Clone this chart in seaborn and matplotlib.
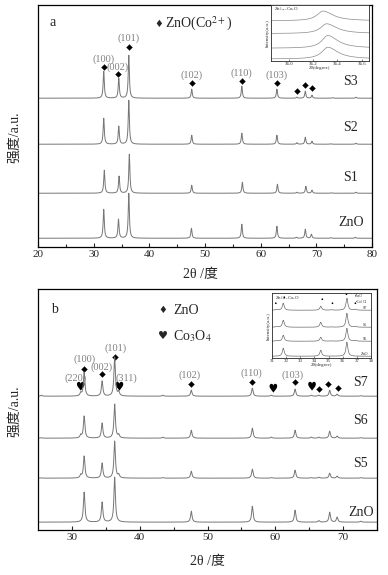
import numpy as np
import pandas as pd
import seaborn as sns
import matplotlib.pyplot as plt

sns.set_style("ticks")
plt.rcParams['font.family'] = ['Liberation Serif', 'Noto Sans CJK SC', 'DejaVu Sans']
plt.rcParams['mathtext.fontset'] = 'stix'
plt.rcParams['xtick.direction'] = 'in'
plt.rcParams['ytick.direction'] = 'in'

LINE = '#767676'
HKL = '#808080'
CJK = ['Liberation Serif', 'Noto Sans CJK SC']

# ---- panel a : ZnO(Co2+) series, peak positions (2theta) and heights (a.u.)
a_samples = ['ZnO', 'S1', 'S2', 'S3']
a_offsets = [9, 54, 103, 149]
a_pos = {
    'ZnO': [31.8, 34.45, 36.3, 47.55, 56.6, 62.9, 66.4, 68.0, 69.1, 72.6, 77.0],
    'S1':  [31.9, 34.55, 36.4, 47.6, 56.7, 63.0, 66.5, 68.1, 69.2, 72.7, 77.1],
    'S2':  [31.8, 34.5, 36.3, 47.6, 56.6, 62.9, 66.5, 68.0, 69.2, 72.6, 77.1],
    'S3':  [31.8, 34.5, 36.3, 47.6, 56.6, 62.9, 66.5, 68.0, 69.2, 72.9, 77.1],
}
a_int = {
    'ZnO': [29, 19, 45, 10, 14, 12, 1.0, 9, 4, 0.5, 1.0],
    'S1':  [23, 17, 39, 8, 11, 9, 1.0, 7, 3, 0.4, 1.0],
    'S2':  [26, 18, 44, 9, 11, 9, 1.5, 7, 3, 0.4, 1.0],
    'S3':  [27, 20, 43, 9, 12, 9, 1.0, 7, 3, 0.5, 1.0],
}
a_hkl = ['(100)', '(002)', '(101)', '(102)', '(110)', '(103)']
a_hkl_x = [31.7, 34.3, 36.2, 47.6, 56.6, 62.9]
a_hkl_y = [188, 180, 209, 172, 174, 172]
a_mark_x = [31.8, 34.4, 36.3, 47.6, 56.6, 62.9, 66.5, 68.0, 69.2]
a_mark_y = [180, 173, 200, 164, 166, 164, 156, 162, 159]
a_label_y = [25, 70, 120, 166]

# inset a : (101) peak, zoomed
ia_pos = [36.32, 36.32, 36.31, 36.28]
ia_int = [12, 13, 10, 10]
ia_offsets = [2, 13, 28, 41]

# ---- panel b : ZnO / Co3O4 series
b_samples = ['ZnO', 'S5', 'S6', 'S7']
b_offsets = [8, 52, 92, 134]
b_pos = [25.5, 31.3, 31.8, 34.45, 36.3, 36.9, 43.4, 47.6, 56.6, 59.4, 62.9, 65.3, 66.4, 68.0, 69.1, 72.6]
b_int = {
    'ZnO': [0.0, 0.0, 30, 20, 45, 0.0, 0.0, 11, 16, 0.0, 12, 0.0, 1.5, 10, 5, 1.0],
    'S5':  [0.3, 3, 22, 15, 37, 3, 0.5, 7, 9, 0.5, 8, 0.5, 1.0, 5, 2, 0.5],
    'S6':  [0.5, 3, 22, 15, 34, 3, 1.0, 8, 10, 1.0, 8, 1.0, 1.0, 7, 2, 0.5],
    'S7':  [1.0, 3, 24, 15, 39, 4, 1.0, 6, 8, 1.0, 7, 1.0, 1.0, 6, 2, 0.5],
}
b_hkl = ['(220)', '(100)', '(002)', '(101)', '(311)', '(102)', '(110)', '(103)']
b_hkl_x = [30.5, 31.9, 34.4, 36.4, 38.0, 47.4, 56.5, 62.6]
b_hkl_y = [152, 171, 163, 182, 152, 155, 157, 155]
b_zno_x = [31.8, 34.5, 36.3, 47.6, 56.6, 62.9, 66.5, 67.8, 69.2]
b_zno_y = [161, 156, 173, 146, 148, 148, 141, 146, 142]
b_co_x = [31.3, 37.0, 59.7, 65.4]
b_co_y = [144, 144, 142, 144]
b_label_y = [18, 67, 110, 148]

# inset b : 31-38 deg region
ib_pos = [31.3, 31.8, 34.45, 35.2, 36.3, 36.9]
ib_int = {
    'ZnO': [0.0, 8, 6, 0.0, 14, 0.0],
    'S5':  [0.6, 6, 4, 0.3, 13, 0.8],
    'S6':  [0.6, 7, 5, 0.3, 14, 0.8],
    'S7':  [0.8, 7, 4, 0.5, 12, 1.0],
}
ib_offsets = [2, 17, 31, 48]
ib_mark_x = [31.27, 31.87, 34.56, 35.28, 36.27, 36.9]
ib_mark_y = [55, 61, 59, 55, 64, 55]


def pattern(x, pos, hts, base, gl, gr=None):
    gr = gl if gr is None else gr
    y = np.full_like(x, float(base))
    for p, h in zip(pos, hts):
        g = np.where(x < p, gl, gr)
        y += h / (1 + ((x - p) / g) ** 2)
    return y


def draw(ax, x, samples, offsets, pos, ints, gl, gr=None, color=LINE, lw=0.7):
    frames = []
    for s, off in zip(samples, offsets):
        p = pos[s] if isinstance(pos, dict) else pos
        frames.append(pd.DataFrame({'two_theta': x,
                                    'intensity': pattern(x, p, ints[s], off, gl, gr),
                                    'sample': s}))
    df = pd.concat(frames)
    sns.lineplot(data=df, x='two_theta', y='intensity', units='sample',
                 estimator=None, color=color, lw=lw, ax=ax, legend=False)
    ax.set_xlabel('')
    ax.set_ylabel('')


fig = plt.figure(figsize=(3.88, 5.75), dpi=100)

# ---------------- panel a
ax1 = fig.add_axes([0.098, 0.570, 0.861, 0.421])
xa = np.linspace(20, 80, 4000)
draw(ax1, xa, a_samples, a_offsets, a_pos, a_int, 0.12)
ax1.set_xlim(20, 80)
ax1.set_ylim(0, 242)
ax1.set_xticks(np.arange(20, 81, 10))
ax1.set_xticks(np.arange(25, 80, 10), minor=True)
ax1.set_yticks([])
for t, x, y in zip(a_hkl, a_hkl_x, a_hkl_y):
    ax1.text(x, y, t, ha='center', va='center', fontsize=7.5, color=HKL)
sns.scatterplot(x=a_mark_x, y=a_mark_y, marker='D', s=9, color='black',
                edgecolor='black', ax=ax1, legend=False)
for s, y in zip(a_samples, a_label_y):
    ax1.text(76.2, y, s, ha='center', va='center', fontsize=10)
ax1.text(22.7, 225, 'a', ha='center', va='center', fontsize=10)
ax1.text(41.6, 223, '\u2666', ha='center', va='center', fontsize=7, family='DejaVu Sans')
ax1.text(42.8, 223, 'ZnO(Co$^{2+}$)', ha='left', va='center', fontsize=10)

# inset a
ia = fig.add_axes([0.698, 0.894, 0.253, 0.097])
xi = np.linspace(35.85, 36.66, 400)
draw(ia, xi, a_samples, ia_offsets, {s: [p] for s, p in zip(a_samples, ia_pos)},
     {s: [h] for s, h in zip(a_samples, ia_int)}, 0.06, 0.1, color='#8a8a8a', lw=0.5)
ia.set_xlim(35.85, 36.66)
ia.set_ylim(0, 57)
ia.set_xticks([36.0, 36.2, 36.4, 36.6])
ia.set_xticklabels(['36.0', '36.2', '36.4', '36.6'])
ia.set_yticks([])
ia.tick_params(labelsize=3.5, length=1.5, width=0.4, pad=0.5)
ia.set_xlabel('2θ(degree)', fontsize=3.5, labelpad=0)
ia.set_ylabel('Intensity(a.u.)', fontsize=3.5, labelpad=1)
ia.text(0.03, 0.93, 'Zn$_{1-x}$Co$_x$O', transform=ia.transAxes, fontsize=3.5, va='center')
for sp in ia.spines.values():
    sp.set_linewidth(0.6)

# ---------------- panel b
ax2 = fig.add_axes([0.098, 0.078, 0.874, 0.419])
xb = np.linspace(25, 75, 4000)
draw(ax2, xb, b_samples, b_offsets, b_pos, b_int, 0.13)
ax2.set_xlim(25, 75)
ax2.set_ylim(0, 241)
ax2.set_xticks(np.arange(30, 71, 10))
ax2.set_xticks(np.arange(35, 76, 10), minor=True)
ax2.set_yticks([])
for t, x, y in zip(b_hkl, b_hkl_x, b_hkl_y):
    ax2.text(x, y, t, ha='center', va='center', fontsize=7.5, color=HKL)
sns.scatterplot(x=b_zno_x, y=b_zno_y, marker='D', s=9, color='black',
                edgecolor='black', ax=ax2, legend=False)
sns.scatterplot(x=b_co_x, y=b_co_y, marker='$\u2665$', s=40, color='black',
                edgecolor='none', ax=ax2, legend=False)
for s, y in zip(b_samples, b_label_y):
    ax2.text(72.6, y, s, ha='center', va='center', fontsize=10)
ax2.text(27.5, 221, 'b', ha='center', va='center', fontsize=10)
ax2.text(43.4, 220, '\u2666', ha='center', va='center', fontsize=7, family='DejaVu Sans')
ax2.text(44.9, 220, 'ZnO', ha='left', va='center', fontsize=10)
ax2.text(43.4, 194, '\u2665', ha='center', va='center', fontsize=8, family='DejaVu Sans')
ax2.text(44.9, 194, 'Co$_3$O$_4$', ha='left', va='center', fontsize=10)

# inset b
ib = fig.add_axes([0.701, 0.377, 0.255, 0.113])
xj = np.linspace(31, 38, 500)
draw(ib, xj, b_samples, ib_offsets, ib_pos, ib_int, 0.08, color='#6a6a6a', lw=0.5)
ib.set_xlim(31, 38)
ib.set_ylim(0, 65)
ib.set_xticks(np.arange(31, 39, 1))
ib.set_yticks([])
ib.tick_params(labelsize=3.5, length=1.5, width=0.4, pad=0.5)
ib.set_xlabel('2θ(degree)', fontsize=3.5, labelpad=0)
ib.set_ylabel('Intensity(a.u.)', fontsize=3.5, labelpad=1)
ib.text(0.03, 0.92, 'Zn$_{1-x}$Co$_x$O', transform=ib.transAxes, fontsize=3.5, va='center')
ib.text(0.84, 0.96, '\u2022ZnO', transform=ib.transAxes, fontsize=2.6, va='center')
ib.text(0.84, 0.86, '\u2022Co$_3$O$_4$', transform=ib.transAxes, fontsize=2.6, va='center')
sns.scatterplot(x=ib_mark_x, y=ib_mark_y, s=1.5, color='black', edgecolor='none',
                ax=ib, legend=False)
for s, y in zip(b_samples, ib_offsets):
    ib.text(37.55, y + 2.5, s, ha='center', va='center', fontsize=3)
for sp in ib.spines.values():
    sp.set_linewidth(0.6)

for ax in (ax1, ax2):
    ax.tick_params(axis='x', which='major', labelsize=8, length=3, width=0.8, pad=2)
    ax.tick_params(axis='x', which='minor', length=2, width=0.8)
    for sp in ax.spines.values():
        sp.set_linewidth(0.9)
        sp.set_color('black')

fig.text(15 / 388, 1 - 137 / 575, '强度/a.u.', rotation=90, ha='center', va='center',
         fontsize=10, family=CJK)
fig.text(200 / 388, 1 - 275 / 575, '2θ /度', ha='center', va='center', fontsize=10, family=CJK)
fig.text(15 / 388, 1 - 411 / 575, '强度/a.u.', rotation=90, ha='center', va='center',
         fontsize=10, family=CJK)
fig.text(207 / 388, 1 - 562 / 575, '2θ /度', ha='center', va='center', fontsize=10, family=CJK)

fig.savefig('out.png', dpi=100)
